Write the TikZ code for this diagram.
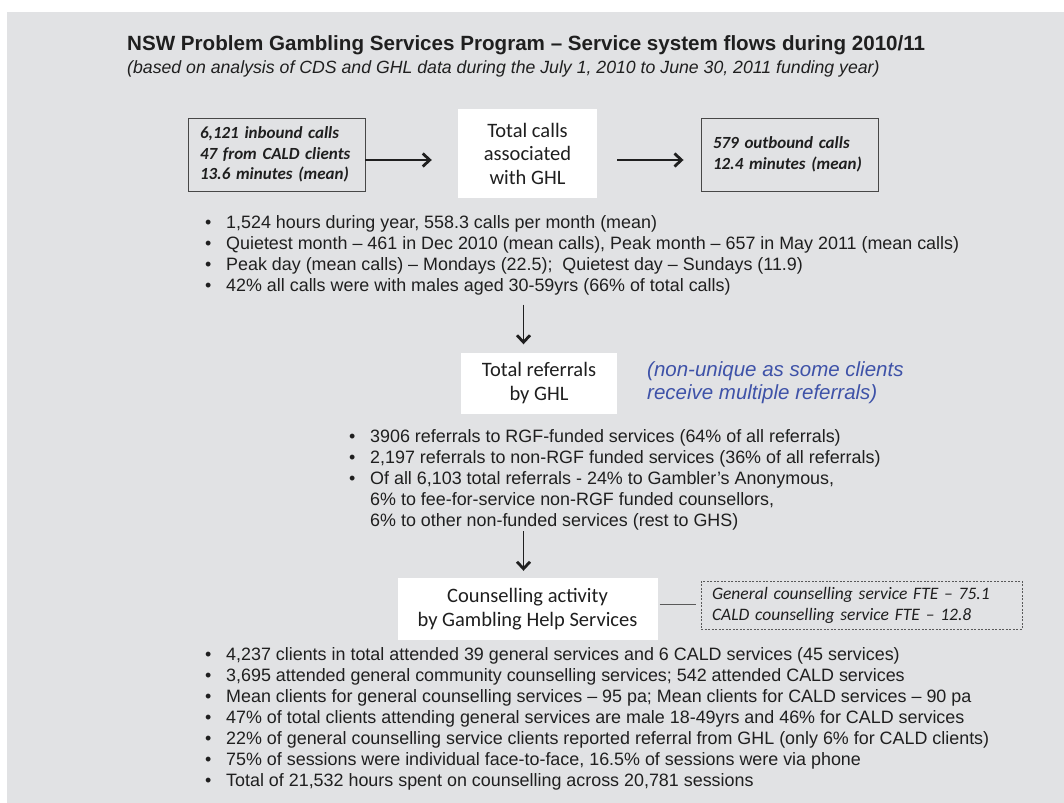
\documentclass[tikz,border=0pt]{standalone}
\usepackage{fontspec}
\setmainfont{Liberation Sans}
\newfontfamily\calfont[Ligatures=TeX]{Carlito}
\usepackage{tikz}
\usetikzlibrary{arrows.meta,calc,positioning}
\definecolor{panelgray}{RGB}{225,226,228}
\definecolor{notecol}{RGB}{62,82,168}
\colorlet{inkgray}{black!88}
\colorlet{edgegray}{black!72}
\colorlet{linkgray}{black!65}
\newcommand{\bl}{\makebox[21bp][l]{\textbullet}}
\newcommand{\hang}{\hspace*{21bp}}

\begin{document}
\begin{tikzpicture}[x=1bp,y=-1bp,>={Straight Barb[length=7bp,width=13bp,line width=2.8bp]},
  every node/.append style={text=inkgray},
  callbox/.style={draw=edgegray,line width=0.9bp,minimum width=177bp,minimum height=73bp,
    text width=153bp,inner xsep=12bp,align=left,
    font=\calfont\bfseries\itshape\fontsize{17bp}{20.5bp}\selectfont},
  stagebox/.style={fill=white,inner sep=0pt,align=center,
    font=\calfont\fontsize{20.5bp}{23.5bp}\selectfont},
  ftebox/.style={draw=linkgray,dash pattern=on 2bp off 1.5bp,line width=0.8bp,
    minimum width=321bp,minimum height=48bp,text width=299bp,inner xsep=11bp,align=left,
    font=\calfont\itshape\fontsize{17.5bp}{21bp}\selectfont},
  bultext/.style={anchor=west,align=left,inner sep=0pt,font=\fontsize{17.9bp}{21bp}\selectfont},
  arr/.style={->,draw=inkgray,line width=1.3bp}]
\useasboundingbox (0,0) rectangle (1064,803);
\fill[panelgray] (7,12) rectangle (1064,803);
% heading
\node[anchor=base west,inner sep=0pt,font=\bfseries\fontsize{20.6bp}{24bp}\selectfont] (title) at (127,51)
  {NSW Problem Gambling Services Program -- Service system flows during 2010/11};
\node[anchor=base west,inner sep=0pt,font=\itshape\fontsize{17.7bp}{21bp}\selectfont] (subtitle) at (127,73.5)
  {(based on analysis of CDS and GHL data during the July 1, 2010 to June 30, 2011 funding year)};
% calls
\node[callbox] (inbound) at (276.5,154.5) {6,121 inbound calls\\47 from CALD clients\\13.6 minutes (mean)};
\node[stagebox,minimum width=139bp,minimum height=88bp] (calls) at (527.5,153.5) {Total calls\\associated\\with GHL};
\node[callbox] (outbound) at (789.5,154.5) {579 outbound calls\\12.4 minutes (mean)};
\coordinate (callrow) at (0,160);
\draw[arr,shorten >=26bp] (inbound.east |- callrow) -- (calls.west |- callrow);
\draw[arr,shorten <=20bp,shorten >=17bp] (calls.east |- callrow) -- (outbound.west |- callrow);
\node[bultext] (calllist) at (205,255.5) {\bl 1,524 hours during year, 558.3 calls per month (mean)\\
  \bl Quietest month -- 461 in Dec 2010 (mean calls), Peak month -- 657 in May 2011 (mean calls)\\
  \bl Peak day (mean calls) -- Mondays (22.5);~ Quietest day -- Sundays (11.9)\\
  \bl 42\% all calls were with males aged 30-59yrs (66\% of total calls)};
% referrals
\coordinate (downcol) at (523.5,0);
\node[stagebox,minimum width=156bp,minimum height=61bp] (referrals) at (539,383) {Total referrals\\by GHL};
\node[anchor=west,inner sep=0pt,align=left,text=notecol,font=\itshape\fontsize{20.5bp}{23bp}\selectfont] (note)
  at (647,383) {(non-unique as some clients\\receive multiple referrals)};
\draw[arr,shorten <=9bp,shorten >=8bp] (calllist.south -| downcol) -- (referrals.north -| downcol);
\node[bultext] (reflist) at (349,479.5) {\bl 3906 referrals to RGF-funded services (64\% of all referrals)\\
  \bl 2,197 referrals to non-RGF funded services (36\% of all referrals)\\
  \bl Of all 6,103 total referrals - 24\% to Gambler’s Anonymous,\\
  \hang 6\% to fee-for-service non-RGF funded counsellors,\\
  \hang 6\% to other non-funded services (rest to GHS)};
% counselling
\node[stagebox,minimum width=260bp,minimum height=62bp] (couns) at (527.5,609) {Counselling activity\\by Gambling Help Services};
\draw[arr,shorten <=1bp,shorten >=7bp] (reflist.south -| downcol) -- (couns.north -| downcol);
\node[ftebox] (fte) at (861.5,605) {General counselling service FTE -- 75.1\\CALD counselling service FTE -- 12.8};
\coordinate (fterow) at (0,604);
\draw[linkgray,line width=1bp,shorten <=2bp,shorten >=5bp] (couns.east |- fterow) -- (fte.west |- fterow);
\node[bultext] (counslist) at (205,718.5) {\bl 4,237 clients in total attended 39 general services and 6 CALD services (45 services)\\
  \bl 3,695 attended general community counselling services; 542 attended CALD services\\
  \bl Mean clients for general counselling services -- 95 pa; Mean clients for CALD services -- 90 pa\\
  \bl 47\% of total clients attending general services are male 18-49yrs and 46\% for CALD services\\
  \bl 22\% of general counselling service clients reported referral from GHL (only 6\% for CALD clients)\\
  \bl 75\% of sessions were individual face-to-face, 16.5\% of sessions were via phone\\
  \bl Total of 21,532 hours spent on counselling across 20,781 sessions};
\end{tikzpicture}
\end{document}
